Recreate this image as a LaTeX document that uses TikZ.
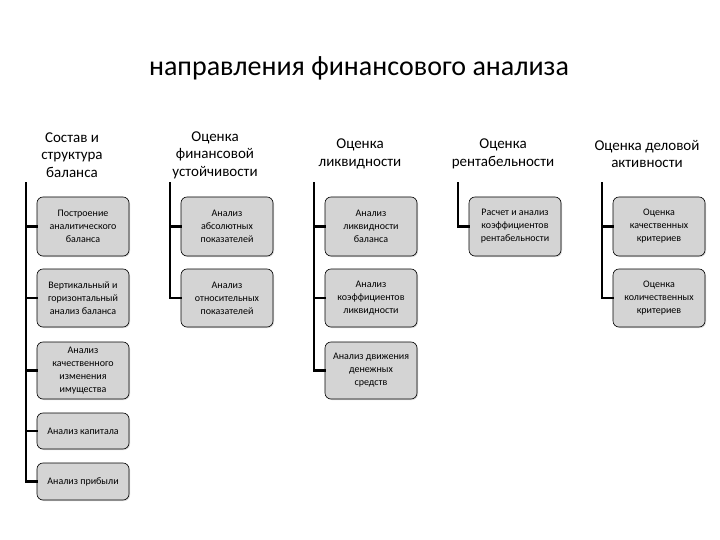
\documentclass[tikz,border=0pt]{standalone}
\usepackage{fontspec}
\setmainfont{Carlito}
\usetikzlibrary{shadows}

\tikzset{
	plate/.style={draw=black, line width=0.6pt, fill=black!17, rounded corners=6pt,
		minimum width=92pt, align=center, font=\fontsize{10}{13}\selectfont,
		drop shadow={shadow xshift=1pt, shadow yshift=-1pt, opacity=0.25, fill=black!60}},
	head/.style={align=center, font=\fontsize{15}{17.5}\selectfont},
	trunk/.style={line width=2.4pt, line cap=rect}
}

\begin{document}
\begin{tikzpicture}[x=1pt, y=-1pt]
			%%%%% START %%%%%
			\useasboundingbox (0,0) rectangle (720,540);
			
			\node[font=\fontsize{28}{32}\selectfont] (title) at (359,68) {направления финансового анализа};
			
			% column heads
			\node[head] (h1) at (72,155) {Состав и\\структура\\баланса};
			\node[head] (h2) at (215,155) {Оценка\\финансовой\\устойчивости};
			\node[head] (h3) at (360,154) {Оценка\\ликвидности};
			\node[head] (h4) at (503,154) {Оценка\\рентабельности};
			\node[head] (h5) at (647,154) {Оценка деловой\\активности};
			
			% tops of the trunks
			\coordinate (t1) at (26,183);
			\coordinate (t2) at (170,183);
			\coordinate (t3) at (314,183);
			\coordinate (t4) at (458,183);
			\coordinate (t5) at (602,183);
			
			% column 1
			\node[plate, minimum height=59pt] (c1a) at (83,226.5) {Построение\\аналитического\\баланса};
			\node[plate, minimum height=58pt] (c1b) at (83,298) {Вертикальный и\\горизонтальный\\анализ баланса};
			\node[plate, minimum height=57pt] (c1c) at (83,370.5) {Анализ\\качественного\\изменения\\имущества};
			\node[plate, minimum height=36pt] (c1d) at (83,431) {Анализ капитала};
			\node[plate, minimum height=37pt] (c1e) at (83,481.5) {Анализ прибыли};
			
			% column 2
			\node[plate, minimum height=59pt] (c2a) at (227,226.5) {Анализ\\абсолютных\\показателей};
			\node[plate, minimum height=58pt] (c2b) at (227,298) {Анализ\\относительных\\показателей};
			
			% column 3
			\node[plate, minimum height=59pt] (c3a) at (371,226.5) {Анализ\\ликвидности\\баланса};
			\node[plate, minimum height=58pt] (c3b) at (371,298) {Анализ\\коэффициентов\\ликвидности};
			\node[plate, minimum height=57pt] (c3c) at (371,370.5) {Анализ движения\\денежных\\средств};
			
			% column 4
			\node[plate, minimum height=59pt] (c4a) at (515,226.5) {Расчет и анализ\\коэффициентов\\рентабельности};
			
			% column 5
			\node[plate, minimum height=59pt] (c5a) at (659,226.5) {Оценка\\качественных\\критериев};
			\node[plate, minimum height=58pt] (c5b) at (659,298) {Оценка\\количественных\\критериев};
			
			% trunks and ticks
			\draw[trunk] (t1) -- (t1 |- c1e.west);
			\foreach \b in {c1a,c1b,c1c,c1d,c1e}
				\draw[trunk] (t1 |- \b.west) -- (\b.west);
			
			\draw[trunk] (t2) -- (t2 |- c2b.west);
			\foreach \b in {c2a,c2b}
				\draw[trunk] (t2 |- \b.west) -- (\b.west);
			
			\draw[trunk] (t3) -- (t3 |- c3c.west);
			\foreach \b in {c3a,c3b,c3c}
				\draw[trunk] (t3 |- \b.west) -- (\b.west);
			
			\draw[trunk] (t4) -- (t4 |- c4a.west);
			\draw[trunk] (t4 |- c4a.west) -- (c4a.west);
			
			\draw[trunk] (t5) -- (t5 |- c5b.west);
			\foreach \b in {c5a,c5b}
				\draw[trunk] (t5 |- \b.west) -- (\b.west);
			
			%%%%% END %%%%%
\end{tikzpicture}
\end{document}
